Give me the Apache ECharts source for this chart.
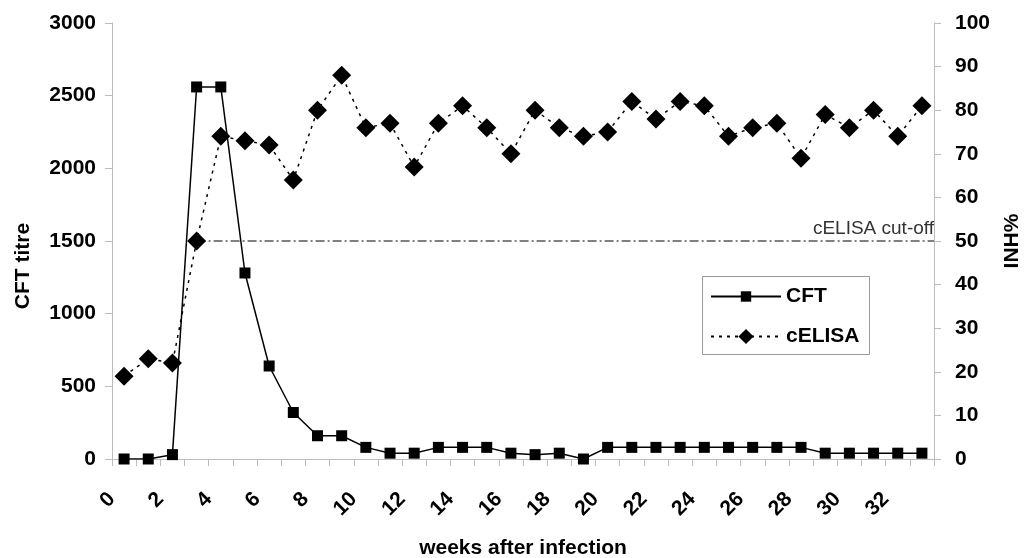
<!DOCTYPE html>
<html>
<head>
<meta charset="utf-8">
<script src="https://cdn.jsdelivr.net/npm/echarts@6/dist/echarts.min.js"></script>
<style>
html,body{margin:0;padding:0;background:#fff;}
#chart{width:1026px;height:558px;}
</style>
</head>
<body>
<div id="chart"></div>
<script>
const weeks = ['0','1','2','3','4','5','6','7','8','9','10','11','12','13','14','15','16','17','18','19','20','21','22','23','24','25','26','27','28','29','30','31','32','33'];
const cftTitre = [0,0,30,2560,2560,1280,640,320,160,160,80,40,40,80,80,80,40,30,40,0,80,80,80,80,80,80,80,80,80,40,40,40,40,40];
const celisaInh = [19,23,22,50,74,73,72,64,80,88,76,77,67,77,81,76,70,80,76,74,75,82,78,82,81,74,76,77,69,79,76,80,74,81];
const xTickLabels = [0,2,4,6,8,10,12,14,16,18,20,22,24,26,28,30,32];
const leftTicks = [0,500,1000,1500,2000,2500,3000];
const rightTicks = [0,10,20,30,40,50,60,70,80,90,100];
const cutoffValue = 50;
const cutoffStartWeek = 3;
const cutoffLabel = 'cELISA cut-off';

const FONT = 'Liberation Sans, Arial, sans-serif';
const FS = 21;
const axisGray = '#bdbdbd';
const chart = echarts.init(document.getElementById('chart'));

const cutoffData = [[cutoffStartWeek + 0.5, cutoffValue], [weeks.length, cutoffValue]];
const legendText = {fontFamily: FONT, fontWeight: 'bold', fontSize: FS, color: '#000'};

chart.setOption({
  animation: false,
  backgroundColor: '#fff',
  grid: {left: 112, right: 92, top: 23, bottom: 99, outerBoundsMode: 'none', containLabel: false},
  graphic: [{
    type: 'rect', left: 702, top: 276, z: 0,
    shape: {width: 167, height: 78},
    style: {fill: '#fff', stroke: '#999', lineWidth: 1}
  }],
  legend: [
    {
      data: ['CFT'], orient: 'vertical', left: 710, top: 286, padding: 0,
      itemWidth: 70, itemHeight: 13, itemGap: 0, textStyle: legendText
    },
    {
      data: ['cELISA'], orient: 'vertical', left: 710, top: 326, padding: 0,
      itemWidth: 70, itemHeight: 19, itemGap: 0, textStyle: legendText
    }
  ],
  xAxis: [
    {type: 'category', data: weeks, boundaryGap: true, show: false},
    {
      type: 'value', min: 0, max: weeks.length, interval: 1, position: 'bottom',
      name: 'weeks after infection', nameLocation: 'middle', nameGap: 79,
      nameTextStyle: {fontFamily: FONT, fontWeight: 'bold', fontSize: FS, color: '#000'},
      axisLine: {show: true, lineStyle: {color: axisGray, width: 1}},
      axisTick: {show: true, length: 7, lineStyle: {color: axisGray}},
      splitLine: {show: false},
      axisLabel: {
        rotate: 45, margin: 37, fontFamily: FONT, fontWeight: 'bold', fontSize: FS, color: '#000',
        showMaxLabel: true, showMinLabel: true,
        formatter: v => xTickLabels.indexOf(v) >= 0 ? String(v) : ''
      }
    }
  ],
  yAxis: [
    {
      type: 'value', min: leftTicks[0], max: leftTicks[leftTicks.length-1], interval: leftTicks[1]-leftTicks[0],
      name: 'CFT titre', nameLocation: 'middle', nameGap: 78, nameRotate: 90,
      nameTextStyle: {fontFamily: FONT, fontWeight: 'bold', fontSize: FS, color: '#000', padding: [0, 50, 0, 0]},
      axisLine: {show: true, lineStyle: {color: axisGray}},
      axisTick: {show: true, length: 7, lineStyle: {color: axisGray}},
      splitLine: {show: false},
      axisLabel: {margin: 16, fontFamily: FONT, fontWeight: 'bold', fontSize: FS, color: '#000', formatter: v => String(v)}
    },
    {
      type: 'value', min: rightTicks[0], max: rightTicks[rightTicks.length-1], interval: rightTicks[1]-rightTicks[0],
      position: 'right',
      name: 'INH%', nameLocation: 'middle', nameGap: 68, nameRotate: 90,
      nameTextStyle: {fontFamily: FONT, fontWeight: 'bold', fontSize: FS, color: '#000'},
      axisLine: {show: true, lineStyle: {color: axisGray}},
      axisTick: {show: true, length: 7, lineStyle: {color: axisGray}},
      splitLine: {show: false},
      axisLabel: {margin: 21, fontFamily: FONT, fontWeight: 'bold', fontSize: FS, color: '#000', formatter: v => String(v)}
    }
  ],
  series: [
    {
      name: 'cut-off', type: 'line', xAxisIndex: 1, yAxisIndex: 1, data: cutoffData,
      symbol: 'circle', symbolSize: 1, showSymbol: true, silent: true,
      itemStyle: {color: 'rgba(0,0,0,0)'},
      lineStyle: {color: '#000', width: 1, type: [9, 3, 2, 3]},
      label: {
        show: true, position: 'top', align: 'right', distance: 2,
        fontFamily: FONT, fontSize: 19, color: '#333',
        formatter: p => p.dataIndex === cutoffData.length - 1 ? cutoffLabel : ''
      }
    },
    {
      name: 'CFT', type: 'line', xAxisIndex: 0, yAxisIndex: 0, data: cftTitre,
      symbol: 'rect', symbolSize: 11,
      itemStyle: {color: '#000'},
      lineStyle: {color: '#000', width: 1.5}
    },
    {
      name: 'cELISA', type: 'line', xAxisIndex: 0, yAxisIndex: 1, data: celisaInh,
      symbol: 'diamond', symbolSize: 19,
      itemStyle: {color: '#000'},
      lineStyle: {color: '#000', width: 1.5, type: [3, 5]}
    }
  ]
});
</script>
</body>
</html>
